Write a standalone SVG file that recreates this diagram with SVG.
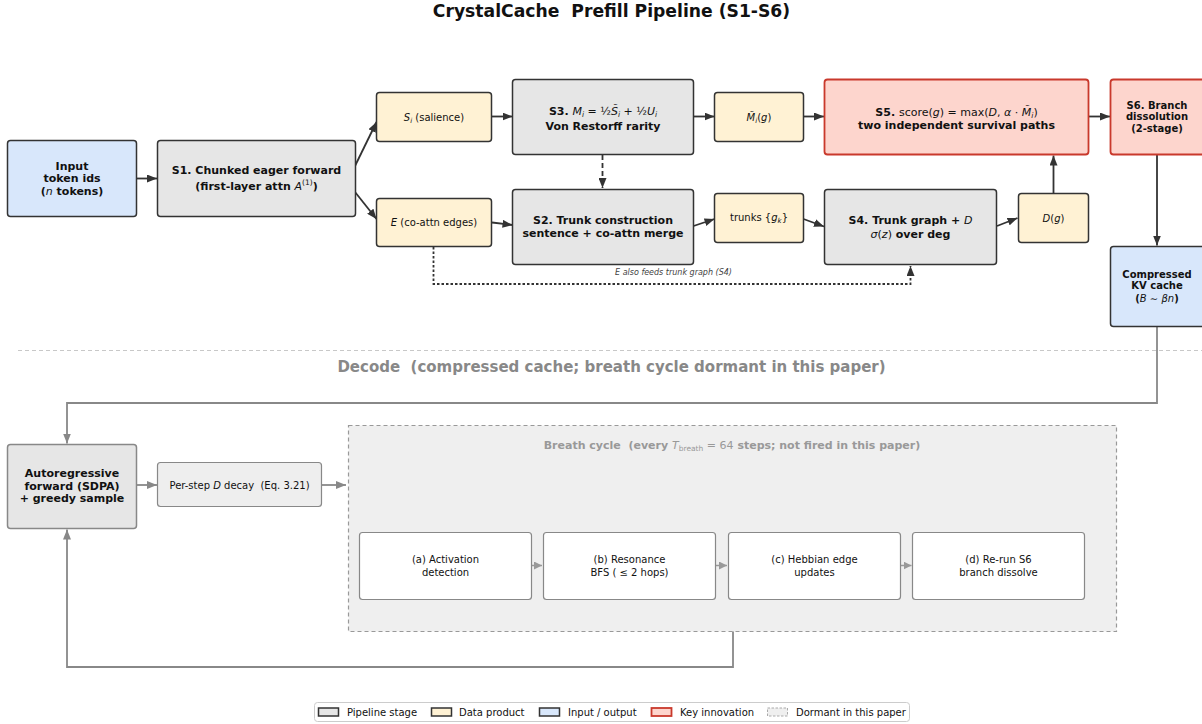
<svg xmlns="http://www.w3.org/2000/svg" width="1202" height="724" viewBox="0 0 1202 724">
<defs>
<style>
text{font-family:"DejaVu Sans","Liberation Sans",sans-serif;text-anchor:middle;fill:#111;white-space:pre}
.t{font-size:17.2px;font-weight:bold}
.b11{font-size:11px;font-weight:bold}
.b10{font-size:10px;font-weight:bold}
.r10{font-size:10px}
.mi{font-style:italic;font-weight:normal}
.mr{font-weight:normal}
.stage{fill:#e6e6e6;stroke:#333;stroke-width:1.5}
.data{fill:#fff2d4;stroke:#333;stroke-width:1.5}
.io{fill:#d8e7fb;stroke:#333;stroke-width:1.5}
.key{fill:#fdd5cd;stroke:#c9392c;stroke-width:1.8}
.dstage{fill:#e6e6e6;stroke:#888;stroke-width:1.5}
.dsoft{fill:#eeeeee;stroke:#888;stroke-width:1.2}
.sub{fill:#ffffff;stroke:#888;stroke-width:1.2}
.dorm{fill:#efefef;stroke:#999;stroke-width:1.2;stroke-dasharray:4 3}
.c{fill:none;stroke:#333;stroke-width:1.8}
.g{fill:none;stroke:#888;stroke-width:1.8}
.gs{fill:none;stroke:#999;stroke-width:1.5}
</style>
<marker id="ah" viewBox="0 0 10 8" refX="10" refY="4" markerWidth="10" markerHeight="8" markerUnits="userSpaceOnUse" orient="auto"><path d="M0,0 L10,4 L0,8 z" fill="#333"/></marker>
<marker id="ag" viewBox="0 0 10 8" refX="10" refY="4" markerWidth="10" markerHeight="8" markerUnits="userSpaceOnUse" orient="auto"><path d="M0,0 L10,4 L0,8 z" fill="#888"/></marker>
<marker id="as" viewBox="0 0 8 8" refX="8" refY="4" markerWidth="8" markerHeight="8" markerUnits="userSpaceOnUse" orient="auto"><path d="M0,0 L8,4 L0,8 z" fill="#999"/></marker>
</defs>
<rect width="1202" height="724" fill="#ffffff"/>
<text class="t" x="611.5" y="17">CrystalCache  Prefill Pipeline (S1-S6)</text>

<g id="connectors">
<line class="c" x1="136" y1="178.5" x2="157" y2="178.5" marker-end="url(#ah)"/>
<line class="c" x1="355" y1="166" x2="376.5" y2="122" marker-end="url(#ah)"/>
<line class="c" x1="355" y1="192" x2="376.5" y2="219" marker-end="url(#ah)"/>
<line class="c" x1="492" y1="116.5" x2="512.5" y2="116.5" marker-end="url(#ah)"/>
<line class="c" x1="693.5" y1="116.5" x2="714.5" y2="116.5" marker-end="url(#ah)"/>
<line class="c" x1="803.5" y1="116.5" x2="824" y2="116.5" marker-end="url(#ah)"/>
<line class="c" x1="492" y1="222.5" x2="512.5" y2="225" marker-end="url(#ah)"/>
<line class="c" x1="693.5" y1="226" x2="714.5" y2="219" marker-end="url(#ah)"/>
<line class="c" x1="803.5" y1="219" x2="824" y2="226.5" marker-end="url(#ah)"/>
<line class="c" x1="997" y1="226" x2="1017.5" y2="218" marker-end="url(#ah)"/>
<line class="c" x1="1053.5" y1="193.5" x2="1053.5" y2="155.5" marker-end="url(#ah)"/>
<line class="c" x1="1089" y1="116.5" x2="1110" y2="116.5" marker-end="url(#ah)"/>
<line class="c" x1="1157" y1="155" x2="1157" y2="245.5" marker-end="url(#ah)"/>
<line class="c" x1="602.5" y1="155" x2="602.5" y2="188" stroke-dasharray="5 3" marker-end="url(#ah)"/>
<path class="c" d="M433.5,247 V284 H910.5 V266" stroke-width="1.5" stroke-dasharray="2.5 2" marker-end="url(#ah)"/>
<text x="673.5" y="274.5" style="font-size:8px;font-style:italic;fill:#444">E also feeds trunk graph (S4)</text>
<path class="g" d="M1157,326 V403 H67 V443.5" marker-end="url(#ag)"/>
<line class="g" x1="136" y1="485" x2="157" y2="485" marker-end="url(#ag)"/>
<line class="g" x1="321" y1="485" x2="346" y2="485" marker-end="url(#ag)"/>
<path class="g" d="M733,631 V667 H67 V529.5" marker-end="url(#ag)"/>
</g>

<line x1="18" y1="350.5" x2="1202" y2="350.5" stroke="#c8c8c8" stroke-width="1" stroke-dasharray="4 3"/>
<text x="611.5" y="372" style="font-size:15px;font-weight:bold;fill:#888">Decode  (compressed cache; breath cycle dormant in this paper)</text>

<g id="input">
<rect class="io" x="7.5" y="140.5" width="129" height="76" rx="3"/>
<text class="b11" x="72" y="169.5">Input</text>
<text class="b11" x="72" y="182">token ids</text>
<text class="b11" x="72" y="194.5">(<tspan class="mi">n</tspan> tokens)</text>
</g>
<g id="s1">
<rect class="stage" x="157.5" y="140.5" width="198" height="76" rx="3"/>
<text class="b11" x="256.5" y="173.5">S1. Chunked eager forward</text>
<text class="b11" x="256.5" y="189.5">(first-layer attn <tspan class="mi">A</tspan><tspan class="mr" dy="-4.5" font-size="7.5">(1)</tspan><tspan dy="4.5">)</tspan></text>
</g>
<g id="salience">
<rect class="data" x="376.5" y="92.5" width="115" height="49" rx="3"/>
<text class="r10" x="434" y="120.5"><tspan class="mi">S</tspan><tspan class="mi" font-size="7" dy="2">i</tspan><tspan dy="-2"> (salience)</tspan></text>
</g>
<g id="s3">
<rect class="stage" x="512.5" y="79.5" width="181" height="75" rx="3"/>
<text class="b11" x="603" y="114.5">S3. <tspan class="mi">M</tspan><tspan class="mi" font-size="7.5" dy="2">i</tspan><tspan class="mr" dy="-2"> = ½</tspan><tspan class="mi">S̃</tspan><tspan class="mi" font-size="7.5" dy="2">i</tspan><tspan class="mr" dy="-2"> + ½</tspan><tspan class="mi">U</tspan><tspan class="mi" font-size="7.5" dy="2">i</tspan></text>
<text class="b11" x="603" y="129.5">Von Restorff rarity</text>
</g>
<g id="mtilde">
<rect class="data" x="714.5" y="92.5" width="89" height="49" rx="3"/>
<text class="r10" x="759" y="120.5"><tspan class="mi">M̃</tspan><tspan class="mi" font-size="7" dy="2">i</tspan><tspan dy="-2">(</tspan><tspan class="mi">g</tspan>)</text>
</g>
<g id="s5">
<rect class="key" x="824.5" y="79.5" width="264" height="75" rx="3"/>
<text class="b11" x="956.5" y="115.5">S5. <tspan class="mr">score(</tspan><tspan class="mi">g</tspan><tspan class="mr">) = max(</tspan><tspan class="mi">D</tspan><tspan class="mr">, </tspan><tspan class="mi">α</tspan><tspan class="mr"> · </tspan><tspan class="mi">M̃</tspan><tspan class="mi" font-size="7.5" dy="2">i</tspan><tspan class="mr" dy="-2">)</tspan></text>
<text class="b11" x="956.5" y="128.5">two independent survival paths</text>
</g>
<g id="s6">
<rect class="key" x="1110.5" y="79.5" width="94" height="75" rx="3"/>
<text class="b10" x="1157" y="108.5">S6. Branch</text>
<text class="b10" x="1157" y="120">dissolution</text>
<text class="b10" x="1157" y="131.5">(2-stage)</text>
</g>
<g id="edges">
<rect class="data" x="376.5" y="198.5" width="115" height="48" rx="3"/>
<text class="r10" x="434" y="226"><tspan class="mi">E</tspan> (co-attn edges)</text>
</g>
<g id="s2">
<rect class="stage" x="512.5" y="189.5" width="181" height="75" rx="3"/>
<text class="b11" x="603" y="224">S2. Trunk construction</text>
<text class="b11" x="603" y="236.5">sentence + co-attn merge</text>
</g>
<g id="trunks">
<rect class="data" x="714.5" y="193.5" width="89" height="49" rx="3"/>
<text class="r10" x="759" y="221">trunks {<tspan class="mi">g</tspan><tspan class="mi" font-size="7" dy="2">k</tspan><tspan dy="-2">}</tspan></text>
</g>
<g id="s4">
<rect class="stage" x="824.5" y="189.5" width="172" height="75" rx="3"/>
<text class="b11" x="910.5" y="223.5">S4. Trunk graph + <tspan class="mi">D</tspan></text>
<text class="b11" x="910.5" y="237.5"><tspan class="mi">σ</tspan><tspan class="mr">(</tspan><tspan class="mi">z</tspan><tspan class="mr">)</tspan> over deg</text>
</g>
<g id="dg">
<rect class="data" x="1018.5" y="193.5" width="70" height="49" rx="3"/>
<text class="r10" x="1053.5" y="221.5"><tspan class="mi">D</tspan>(<tspan class="mi">g</tspan>)</text>
</g>
<g id="kv">
<rect class="io" x="1110.5" y="246.5" width="94" height="80" rx="3"/>
<text class="b10" x="1157" y="277.5">Compressed</text>
<text class="b10" x="1157" y="289">KV cache</text>
<text class="b10" x="1157" y="301.5">(<tspan class="mi">B</tspan><tspan class="mr"> ∼ </tspan><tspan class="mi">βn</tspan>)</text>
</g>

<g id="autoregressive">
<rect class="dstage" x="7.5" y="444.5" width="129" height="84" rx="3"/>
<text class="b11" x="72" y="477">Autoregressive</text>
<text class="b11" x="72" y="489.5">forward (SDPA)</text>
<text class="b11" x="72" y="502">+ greedy sample</text>
</g>
<g id="perstep">
<rect class="dsoft" x="157.5" y="462.5" width="164" height="44" rx="3"/>
<text class="r10" x="239.5" y="488.5">Per-step <tspan font-style="italic">D</tspan> decay  (Eq. 3.21)</text>
</g>
<g id="breath">
<rect class="dorm" x="348.5" y="425.5" width="768" height="206"/>
<text x="732" y="448.5" style="font-size:11px;font-weight:bold;fill:#999">Breath cycle  (every <tspan font-style="italic" font-weight="normal">T</tspan><tspan font-weight="normal" font-size="7.5" dy="2">breath</tspan><tspan font-weight="normal" dy="-2"> = 64</tspan> steps; not fired in this paper)</text>
</g>
<g id="breath-arrows">
<line class="gs" x1="531" y1="565.5" x2="542" y2="565.5" marker-end="url(#as)"/>
<line class="gs" x1="715.5" y1="565.5" x2="727" y2="565.5" marker-end="url(#as)"/>
<line class="gs" x1="900" y1="565.5" x2="911.5" y2="565.5" marker-end="url(#as)"/>
</g>
<g id="sub-a">
<rect class="sub" x="359.5" y="532.5" width="172" height="67" rx="3"/>
<text class="r10" x="445.5" y="563">(a) Activation</text>
<text class="r10" x="445.5" y="576">detection</text>
</g>
<g id="sub-b">
<rect class="sub" x="543.5" y="532.5" width="172" height="67" rx="3"/>
<text class="r10" x="629.5" y="563">(b) Resonance</text>
<text class="r10" x="629.5" y="576">BFS ( ≤ 2 hops)</text>
</g>
<g id="sub-c">
<rect class="sub" x="728.5" y="532.5" width="172" height="67" rx="3"/>
<text class="r10" x="814.5" y="563">(c) Hebbian edge</text>
<text class="r10" x="814.5" y="576">updates</text>
</g>
<g id="sub-d">
<rect class="sub" x="912.5" y="532.5" width="172" height="67" rx="3"/>
<text class="r10" x="998.5" y="563">(d) Re-run S6</text>
<text class="r10" x="998.5" y="576">branch dissolve</text>
</g>

<g id="legend">
<rect x="314.5" y="702.5" width="595" height="19" rx="3" fill="#fff" stroke="#ccc" stroke-width="1"/>
<rect class="stage" x="318.5" y="708" width="20" height="8" stroke-width="1.2"/>
<text class="r10" x="347" y="715.5" style="text-anchor:start">Pipeline stage</text>
<rect class="data" x="431.5" y="708" width="20" height="8" stroke-width="1.2"/>
<text class="r10" x="459" y="715.5" style="text-anchor:start">Data product</text>
<rect class="io" x="539.5" y="708" width="20" height="8" stroke-width="1.2"/>
<text class="r10" x="568" y="715.5" style="text-anchor:start">Input / output</text>
<rect class="key" x="651.5" y="708" width="20" height="8" stroke-width="1.5"/>
<text class="r10" x="680" y="715.5" style="text-anchor:start">Key innovation</text>
<rect x="767.5" y="708" width="20" height="8" fill="#efefef" stroke="#aaa" stroke-width="1" stroke-dasharray="2.5 1.5"/>
<text class="r10" x="796" y="715.5" style="text-anchor:start">Dormant in this paper</text>
</g>
</svg>
